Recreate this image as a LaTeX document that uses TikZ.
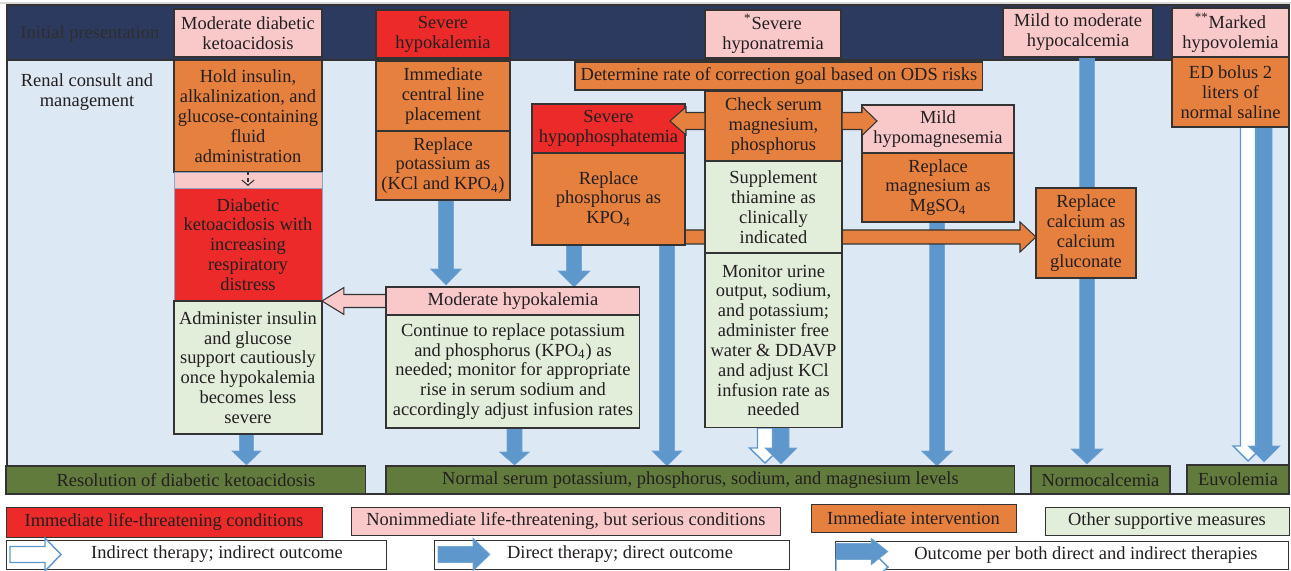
\documentclass[tikz,border=0pt]{standalone}
\usepackage{fontspec}
\setmainfont{Liberation Serif}
\usetikzlibrary{calc,arrows.meta}
\definecolor{navy}{HTML}{2C3A5F}
\definecolor{lightbg}{HTML}{DDE8F5}
\definecolor{pinkc}{HTML}{F9C9CA}
\definecolor{redc}{HTML}{EC2A2A}
\definecolor{orangec}{HTML}{E6803E}
\definecolor{greenc}{HTML}{E2EDDA}
\definecolor{olive}{HTML}{617B3C}
\definecolor{arrowblue}{HTML}{5D97CB}
\definecolor{bordc}{HTML}{333333}
\definecolor{txt}{HTML}{231F20}
\definecolor{stripb}{HTML}{8DA4C4}
\pgfdeclarelayer{bg}\pgfdeclarelayer{arr}\pgfdeclarelayer{front}
\pgfsetlayers{bg,arr,main,front}
\def\pxu{0.569055pt}
\newcommand\fs{\fontsize{10.5}{11.3}\selectfont}
% #1 style, #2 name, #3 x1, #4 y1, #5 x2, #6 y2, #7 text
\newcommand\bx[7][]{\node[box,#1,minimum width={(#5-#3)*\pxu},minimum height={(#6-#4)*\pxu}] (#2) at (#3,#4) {#7};}
% fat arrows: #1 style, #2 start, #3 end, #4 shaft half width, #5 head half width, #6 head length (px)
\newcommand\fatdown[6]{\path[#1] let \p1=#2, \p2=#3 in
 (\x1-#4*\pxu,\y1) -- (\x1-#4*\pxu,\y2+#6*\pxu) -- (\x1-#5*\pxu,\y2+#6*\pxu) -- (\x1,\y2)
 -- (\x1+#5*\pxu,\y2+#6*\pxu) -- (\x1+#4*\pxu,\y2+#6*\pxu) -- (\x1+#4*\pxu,\y1) -- cycle;}
\newcommand\fatright[6]{\path[#1] let \p1=#2, \p2=#3 in
 (\x1,\y1+#4*\pxu) -- (\x2-#6*\pxu,\y1+#4*\pxu) -- (\x2-#6*\pxu,\y1+#5*\pxu) -- (\x2,\y1)
 -- (\x2-#6*\pxu,\y1-#5*\pxu) -- (\x2-#6*\pxu,\y1-#4*\pxu) -- (\x1,\y1-#4*\pxu) -- cycle;}
\newcommand\fatleft[6]{\path[#1] let \p1=#2, \p2=#3 in
 (\x1,\y1+#4*\pxu) -- (\x2+#6*\pxu,\y1+#4*\pxu) -- (\x2+#6*\pxu,\y1+#5*\pxu) -- (\x2,\y1)
 -- (\x2+#6*\pxu,\y1-#5*\pxu) -- (\x2+#6*\pxu,\y1-#4*\pxu) -- (\x1,\y1-#4*\pxu) -- cycle;}
\begin{document}
\begin{tikzpicture}[x=0.02cm,y=-0.02cm,
  box/.style={draw=bordc,line width=0.6pt,inner sep=1pt,outer sep=0pt,align=center,anchor=north west,font=\fs,text=txt},
  pk/.style={fill=pinkc}, rd/.style={fill=redc}, og/.style={fill=orangec},
  gn/.style={fill=greenc}, ol/.style={fill=olive}, wt/.style={fill=white},
  bluearr/.style={fill=arrowblue,draw=arrowblue!85!white,line width=0.3pt},
  whitearr/.style={fill=white,draw=arrowblue,line width=0.8pt},
  orarr/.style={fill=orangec,draw=bordc,line width=0.6pt},
  pkarr/.style={fill=pinkc,draw=bordc,line width=0.6pt}]
\useasboundingbox (0,0) rectangle (1291,571);
\begin{pgfonlayer}{bg}
  \fill[white] (0,0) rectangle (1291,571);
  \draw[black!15,line width=0.6pt] (0,3) -- (1291,3);
  \path[fill=lightbg,draw=bordc,line width=0.8pt] (7,60) rectangle (1289,494);
  \path[fill=navy,draw=bordc,line width=0.8pt] (7,5) rectangle (1289,60);
\end{pgfonlayer}
% row labels
\node[font=\fs,text=black!82] (lblinit) at (90,34) {Initial presentation};
\node[font=\fs,text=txt,align=center] (lblrenal) at (87,92) {Renal consult and\\management};
% column 1
\bx[pk]{mdka}{174}{9}{322}{57}{Moderate diabetic\\ketoacidosis}
\bx[og]{hold}{174}{60}{322}{172}{Hold insulin,\\alkalinization, and\\glucose-containing\\fluid\\administration}
\bx[pk,draw=stripb,line width=0.5pt]{dkstrip}{174}{172}{322}{188}{}
\bx[rd,draw=stripb,line width=0.5pt]{dkrd}{174}{188}{322}{301}{Diabetic\\ketoacidosis with\\increasing\\respiratory\\distress}
\bx[gn]{admin}{174}{301}{322}{434}{Administer insulin\\and glucose\\support cautiously\\once hypokalemia\\becomes less\\severe}
% column 2
\bx[rd]{shk}{376}{10}{510}{58}{Severe\\hypokalemia}
\bx[og]{cline}{376}{61}{510}{131}{Immediate\\central line\\placement}
\bx[og]{repk}{376}{131}{510}{200}{Replace\\potassium as\\(KCl and KPO\textsubscript{4})}
\bx[pk]{modk}{386}{287}{640}{315}{Moderate hypokalemia}
\bx[gn]{cont}{386}{315}{640}{428}{Continue to replace potassium\\and phosphorus (KPO\textsubscript{4}) as\\needed; monitor for appropriate\\rise in serum sodium and\\accordingly adjust infusion rates}
% hyponatremia column
\bx[pk]{hna}{705}{10}{841}{58}{\textsuperscript{*}Severe\\hyponatremia}
\bx[og]{ods}{575}{62}{983}{90}{Determine rate of correction goal based on ODS risks}
\bx[og]{check}{705}{91}{842}{161}{Check serum\\magnesium,\\phosphorus}
\bx[gn]{thia}{705}{161}{842}{253}{Supplement\\thiamine as\\clinically\\indicated}
\bx[gn]{urine}{705}{253}{842}{428}{Monitor urine\\output, sodium,\\and potassium;\\administer free\\water \& DDAVP\\and adjust KCl\\infusion rate as\\needed}
\bx[rd]{hphos}{532}{104}{685}{153}{Severe\\hypophosphatemia}
\bx[og]{repp}{532}{153}{685}{245}{Replace\\phosphorus as\\KPO\textsubscript{4}}
\bx[pk]{hmag}{862}{105}{1014}{153}{Mild\\hypomagnesemia}
\bx[og]{repmg}{862}{153}{1014}{222}{Replace\\magnesium as\\MgSO\textsubscript{4}}
% calcium and volume
\bx[pk]{hca}{1003}{8}{1153}{57}{Mild to moderate\\hypocalcemia}
\bx[og]{repca}{1036}{188}{1136}{278}{Replace\\calcium as\\calcium\\gluconate}
\bx[pk]{hvol}{1172}{8}{1289}{57}{\textsuperscript{**}Marked\\hypovolemia}
\bx[og]{ed}{1172}{57}{1289}{127}{ED bolus 2\\liters of\\normal saline}
% outcomes
\bx[ol]{res}{6}{466}{366}{494}{Resolution of diabetic ketoacidosis}
\bx[ol]{norm}{386}{466}{1015}{494}{Normal serum potassium, phosphorus, sodium, and magnesium levels}
\bx[ol]{nca}{1031}{466}{1170}{494}{Normocalcemia}
\bx[ol]{euv}{1187}{465}{1289}{494}{Euvolemia}
% legend
\bx[rd,line width=0.5pt]{lg1}{6}{507}{322}{537}{Immediate life-threatening conditions}
\bx[pk,line width=0.5pt]{lg2}{351}{507}{781}{535}{Nonimmediate life-threatening, but serious conditions}
\bx[og,line width=0.5pt]{lg3}{811}{504}{1016}{532}{Immediate intervention}
\bx[gn,line width=0.5pt]{lg4}{1045}{507}{1289}{535}{Other supportive measures}
\bx[wt,line width=0.5pt]{lg5}{6}{540}{387}{569}{}
\bx[wt,line width=0.5pt]{lg6}{434}{540}{789}{569}{}
\bx[wt,line width=0.5pt]{lg7}{835}{541}{1289}{569}{}
\node[font=\fs,text=txt] (lg5t) at (217,554.5) {Indirect therapy; indirect outcome};
\node[font=\fs,text=txt] (lg6t) at (620,554.5) {Direct therapy; direct outcome};
\node[font=\fs,text=txt] (lg7t) at (1086,555) {Outcome per both direct and indirect therapies};
% legend icons
\fatright{whitearr}{($(lg5.west)+(4,0)$)}{($(lg5.west)+(55,0)$)}{8}{16.5}{16}
\fatright{bluearr}{($(lg6.west)+(4,0)$)}{($(lg6.west)+(56,0)$)}{8}{16.5}{17}
\fatright{whitearr}{($(lg7.west)+(1,12)$)}{($(lg7.west)+(53,12)$)}{8}{16.5}{17}
\fatright{bluearr}{($(lg7.west)+(1,-3.5)$)}{($(lg7.west)+(53,-3.5)$)}{8}{13.5}{17}
% small dashed arrow
\draw[bordc,line width=0.6pt,dash pattern=on 2pt off 1.5pt,-{Straight Barb[length=3pt,width=7pt]}] (hold.south) -- ($(hold.south |- dkrd.north)+(0,-2)$);
% arrows behind boxes
\begin{pgfonlayer}{arr}
  \fatdown{bluearr}{($(repp.south west)+(135,0)$)}{(norm.north)}{7.5}{15}{15}
  \fatdown{bluearr}{($(repmg.south west)+(75,0)$)}{(norm.north)}{7.5}{15.5}{15}
  \fatdown{bluearr}{($(hca.south west)+(84,0)$)}{($(nca.north)+(0,-2)$)}{7.5}{16}{15}
  \fatdown{bluearr}{($(repp.south west)+(42,0)$)}{(modk.north)}{7.5}{16}{16}
  \fatdown{bluearr}{($(repk.south west)+(70,0)$)}{($(modk.north)+(0,-2)$)}{7.5}{15.5}{16}
  \fatdown{bluearr}{($(admin.south west)+(72.5,0)$)}{($(res.north)+(0,-1)$)}{7}{14.5}{14}
  \fatdown{bluearr}{($(cont.south west)+(128.5,0)$)}{($(norm.north)+(0,-1)$)}{7.5}{15}{13}
  \fatdown{whitearr}{($(urine.south west)+(60,0)$)}{($(norm.north)+(0,-3)$)}{7.5}{15.5}{15}
  \fatdown{bluearr}{($(urine.south west)+(76,0)$)}{($(norm.north)+(0,-2)$)}{8}{16}{16}
  \fatdown{whitearr}{($(ed.south west)+(76,0)$)}{($(euv.north)+(0,-4)$)}{7.5}{15}{15}
  \fatdown{bluearr}{($(ed.south west)+(92,0)$)}{($(euv.north)+(0,-3)$)}{8}{16}{16}
  \fatright{orarr}{($(repp.east)+(0,38)$)}{($(repca.west)+(0,4)$)}{7}{15}{16}
  \fatleft{pkarr}{(modk.west)}{(dkrd.east)}{6.5}{13.5}{22}
\end{pgfonlayer}
% arrows over boxes
\begin{pgfonlayer}{front}
  \fatleft{orarr}{($(check.west)+(0,-5)$)}{($(hphos.east)+(-15,0)$)}{8.5}{14}{16}
  \fatright{orarr}{($(check.east)+(0,-5)$)}{($(hmag.west)+(15,0)$)}{8.5}{14.5}{15}
\end{pgfonlayer}
\end{tikzpicture}
\end{document}
